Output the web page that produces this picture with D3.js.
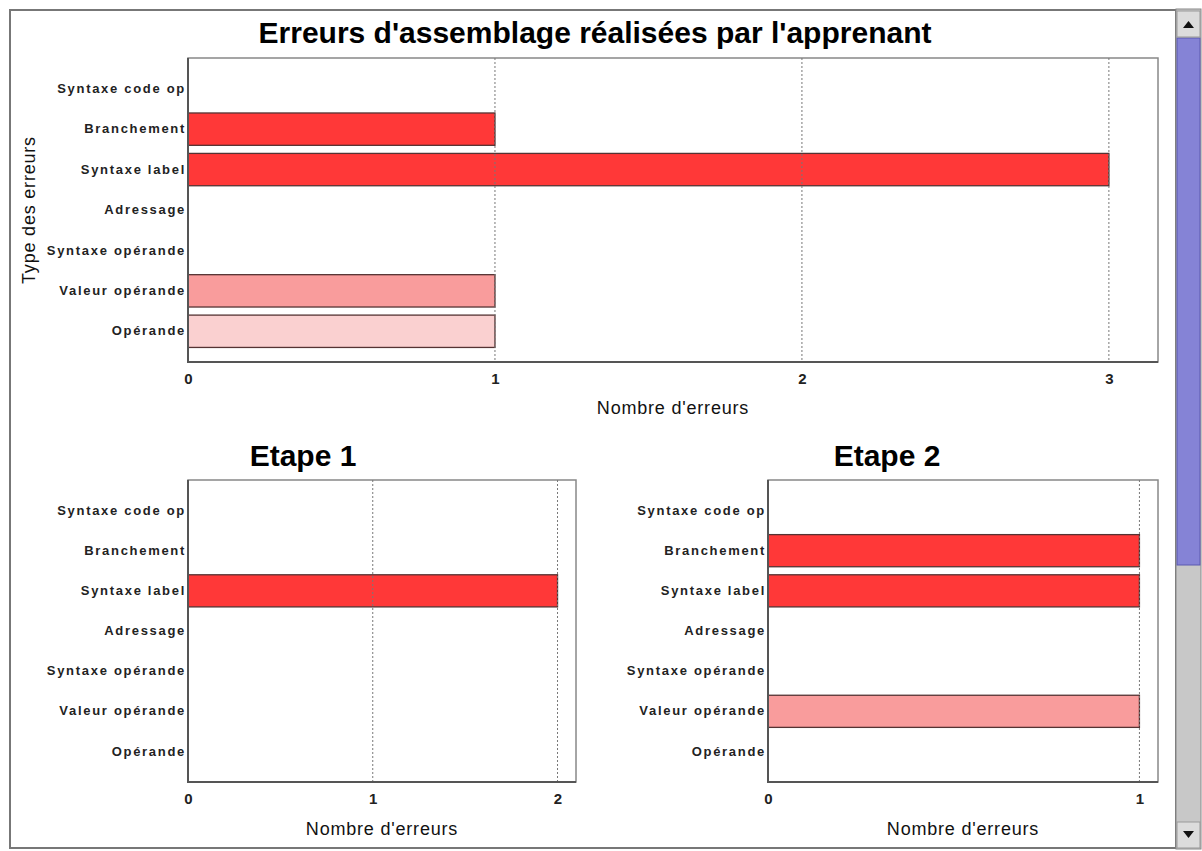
<!DOCTYPE html>
<html>
<head>
<meta charset="utf-8">
<script src="https://cdn.jsdelivr.net/npm/d3@7"></script>
<style>
  html, body { margin: 0; padding: 0; background: #fff; }
  svg { display: block; font-family: "Liberation Sans", Arial, sans-serif; }
  .cat-label { font-size: 13px; font-weight: bold; fill: #222; letter-spacing: 1.7px; }
  .tick-label { font-size: 15px; font-weight: bold; fill: #222; }
  .axis-title { font-size: 18px; fill: #111; letter-spacing: 0.8px; }
  .panel-title { font-weight: bold; fill: #000; }
</style>
</head>
<body>
<svg id="chart" width="1202" height="851"></svg>
<script>
const CATEGORIES = [
  "Syntaxe code op",
  "Branchement",
  "Syntaxe label",
  "Adressage",
  "Syntaxe opérande",
  "Valeur opérande",
  "Opérande",
];
const CAT_COLORS = ["#ff3333", "#ff3838", "#ff3838", "#ff6666", "#ff8080", "#f99c9c", "#fad0d0"];

const TOTAL_VALUES = [0, 1, 3, 0, 0, 1, 1];
const STEP1_VALUES = [0, 0, 2, 0, 0, 0, 0];
const STEP2_VALUES = [0, 1, 1, 0, 0, 1, 0];

const TOTAL_TICKS = [0, 1, 2, 3];
const STEP1_TICKS = [0, 1, 2];
const STEP2_TICKS = [0, 1];

const PANELS = [
  { title: "Erreurs d'assemblage réalisées par l'apprenant", titleSize: 30, titleX: 595, titleY: 43,
    values: TOTAL_VALUES, ticks: TOTAL_TICKS, xMax: 3.16,
    x0: 188, x1: 1158, y0: 58, y1: 362, axisTitleY: 414 },
  { title: "Etape 1", titleSize: 30, titleX: 303, titleY: 466,
    values: STEP1_VALUES, ticks: STEP1_TICKS, xMax: 2.1,
    x0: 188, x1: 576, y0: 480, y1: 782, axisTitleY: 835 },
  { title: "Etape 2", titleSize: 30, titleX: 887, titleY: 466,
    values: STEP2_VALUES, ticks: STEP2_TICKS, xMax: 1.05,
    x0: 768, x1: 1158, y0: 480, y1: 782, axisTitleY: 835 },
];

const svg = d3.select("#chart");

// window frame
svg.append("rect")
  .attr("x", 10).attr("y", 10).attr("width", 1166).attr("height", 838)
  .attr("fill", "#fff").attr("stroke", "#777").attr("stroke-width", 2);

// scrollbar
const sb = svg.append("g");
sb.append("rect").attr("x", 1176).attr("y", 9).attr("width", 25).attr("height", 840).attr("fill", "#c8c8c8").attr("stroke", "#888");
sb.append("rect").attr("x", 1177).attr("y", 38).attr("width", 23).attr("height", 527).attr("fill", "#8583d6").attr("stroke", "#5a58b0");
sb.append("rect").attr("x", 1177).attr("y", 11).attr("width", 23).attr("height", 26).attr("fill", "#dcdcdc").attr("stroke", "#999");
sb.append("rect").attr("x", 1177).attr("y", 822).attr("width", 23).attr("height", 26).attr("fill", "#dcdcdc").attr("stroke", "#999");
sb.append("path").attr("d", "M1183,28 L1188.5,21 L1194,28 Z").attr("fill", "#111");
sb.append("path").attr("d", "M1183,831 L1188.5,838 L1194,831 Z").attr("fill", "#111");

function drawPanel(p) {
  const x = d3.scaleLinear().domain([0, p.xMax]).range([p.x0, p.x1]);
  const y = d3.scaleBand().domain(CATEGORIES).range([p.y0, p.y1])
    .paddingInner(0.2).paddingOuter(0.36);

  const g = svg.append("g");

  g.append("text")
    .attr("class", "panel-title")
    .attr("x", p.titleX).attr("y", p.titleY)
    .attr("text-anchor", "middle")
    .attr("font-size", p.titleSize)
    .text(p.title);

  // plot box
  g.append("rect")
    .attr("x", p.x0).attr("y", p.y0)
    .attr("width", p.x1 - p.x0).attr("height", p.y1 - p.y0)
    .attr("fill", "#fff").attr("stroke", "#888").attr("stroke-width", 1.5);

  // bars
  g.selectAll(".bar")
    .data(CATEGORIES.map((c, i) => ({ c, v: p.values[i], color: CAT_COLORS[i] })).filter(d => d.v > 0))
    .join("rect")
      .attr("class", "bar")
      .attr("x", x(0))
      .attr("y", d => y(d.c))
      .attr("width", d => x(d.v) - x(0))
      .attr("height", y.bandwidth())
      .attr("fill", d => d.color)
      .attr("stroke", "#553333")
      .attr("stroke-width", 1.3);

  // grid lines above bars
  g.selectAll(".grid")
    .data(p.ticks.filter(t => t > 0))
    .join("line")
      .attr("x1", d => x(d)).attr("x2", d => x(d))
      .attr("y1", p.y0).attr("y2", p.y1)
      .attr("stroke", "#777")
      .attr("stroke-width", 1)
      .attr("stroke-dasharray", "2,2");

  // axis lines
  g.append("line").attr("x1", p.x0).attr("x2", p.x0).attr("y1", p.y0).attr("y2", p.y1 + 1)
    .attr("stroke", "#555").attr("stroke-width", 2);
  g.append("line").attr("x1", p.x0).attr("x2", p.x1).attr("y1", p.y1).attr("y2", p.y1)
    .attr("stroke", "#555").attr("stroke-width", 2);

  g.append("g")
    .attr("transform", `translate(0,${p.y1})`)
    .call(d3.axisBottom(x).tickValues(p.ticks).tickSize(0).tickPadding(11).tickFormat(d3.format("d")))
    .call(ax => ax.select(".domain").remove())
    .selectAll("text").attr("class", "tick-label").attr("font-family", null).attr("font-size", null);

  g.append("g")
    .attr("transform", `translate(${p.x0},0)`)
    .call(d3.axisLeft(y).tickSize(0).tickPadding(2))
    .call(ax => ax.select(".domain").remove())
    .selectAll("text").attr("class", "cat-label").attr("font-family", null).attr("font-size", null);

  g.append("text")
    .attr("class", "axis-title")
    .attr("x", (p.x0 + p.x1) / 2).attr("y", p.axisTitleY)
    .attr("text-anchor", "middle")
    .text("Nombre d'erreurs");
}

PANELS.forEach(drawPanel);

svg.append("text")
  .attr("class", "axis-title")
  .attr("transform", "translate(35,210) rotate(-90)")
  .attr("text-anchor", "middle")
  .text("Type des erreurs");
</script>
</body>
</html>
